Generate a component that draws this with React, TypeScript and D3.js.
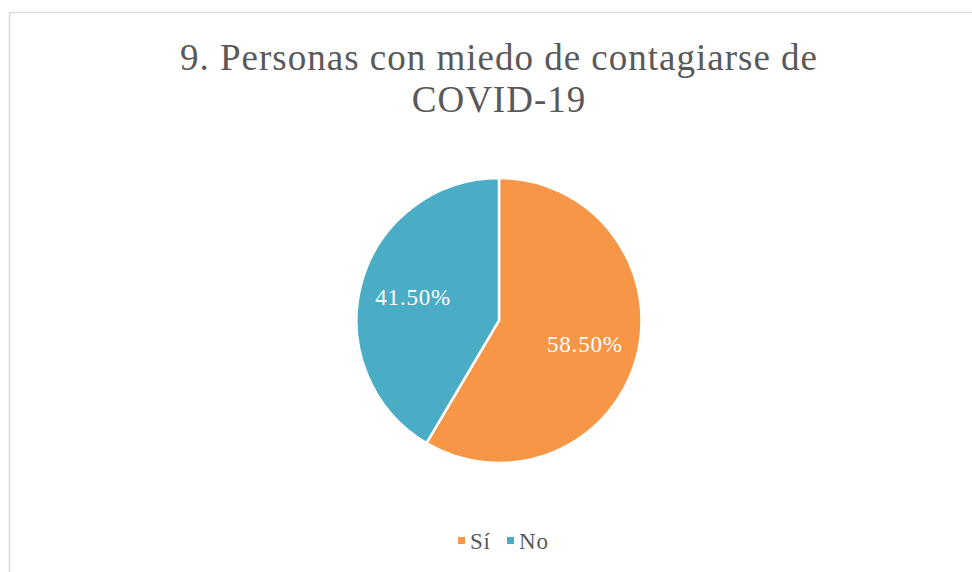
import * as d3 from "d3";
import React from "react";

const categories = ["Sí", "No"];
const values = [58.5, 41.5];
const colors = ["#F79646", "#4BACC6"];
const title = ["9. Personas con miedo de contagiarse de", "COVID-19"];

const W = 972;
const H = 572;
const FONT = "'Liberation Serif', 'DejaVu Serif', serif";

export default function App() {
  const cx = 499;
  const cy = 320.5;
  const r = 142.5;

  const pie = d3.pie<number>().sort(null).value((d) => d);
  const arcs = pie(values);
  const arc = d3.arc<d3.PieArcDatum<number>>().innerRadius(0).outerRadius(r);
  const labelArc = d3.arc<d3.PieArcDatum<number>>().innerRadius(89).outerRadius(89);

  // legend layout
  const legendItems = categories.map((c, i) => ({ name: c, color: colors[i] }));
  const legendX = [458, 507];

  return (
    <svg
      width={W}
      height={H}
      style={{ position: "absolute", left: 0, top: 0, background: "#fff" }}
    >
      <rect x={9.5} y={12.5} width={W} height={H} fill="#fff" stroke="#D9D9D9" strokeWidth={1.5} />
      <text textAnchor="middle" fontFamily={FONT} fontSize={37} letterSpacing={1} fill="#595959">
        <tspan x={499} y={70}>{title[0]}</tspan>
        <tspan x={499} y={112}>{title[1]}</tspan>
      </text>
      <g transform={`translate(${cx},${cy})`}>
        {arcs.map((a, i) => (
          <path key={i} d={arc(a) || ""} fill={colors[i]} stroke="#fff" strokeWidth={2.5} />
        ))}
        {arcs.map((a, i) => {
          const [lx, ly] = labelArc.centroid(a);
          return (
            <text
              key={"l" + i}
              x={lx}
              y={ly}
              dy="0.35em"
              textAnchor="middle"
              fontFamily={FONT}
              fontSize={23}
              letterSpacing={0.8}
              fill="#fff"
            >
              {d3.format(".2f")(values[i]) + "%"}
            </text>
          );
        })}
      </g>
      {legendItems.map((d, i) => (
        <g key={d.name}>
          <rect x={legendX[i]} y={537} width={7} height={7} fill={d.color} />
          <text x={legendX[i] + 12} y={549} fontFamily={FONT} fontSize={23} letterSpacing={0.8} fill="#595959">
            {d.name}
          </text>
        </g>
      ))}
    </svg>
  );
}
